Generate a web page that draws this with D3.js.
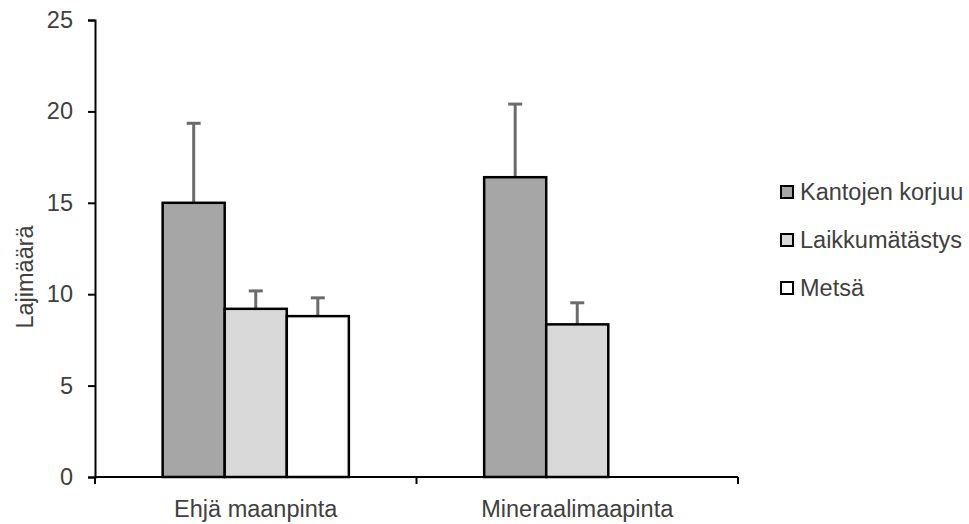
<!DOCTYPE html>
<html>
<head>
<meta charset="utf-8">
<script src="https://cdn.jsdelivr.net/npm/d3@7"></script>
<style>
  html, body { margin: 0; padding: 0; background: #fff; }
  svg { display: block; }
  text { font-family: "Liberation Sans", Arial, sans-serif; fill: #404040; }
</style>
</head>
<body>
<svg id="chart" width="969" height="524"></svg>
<script>
const categories = ["Ehjä maanpinta", "Mineraalimaapinta"];
const seriesNames = ["Kantojen korjuu", "Laikkumätästys", "Metsä"];
const kantojenKorjuu = [15.0, 16.4];
const laikkumatastys = [9.2, 8.35];
const metsa = [8.8, null];
const errKantojen = [4.35, 4.0];
const errLaikku = [0.98, 1.18];
const errMetsa = [1.0, null];
const yTicks = [0, 5, 10, 15, 20, 25];
const yTitle = "Lajimäärä";

const seriesValues = [kantojenKorjuu, laikkumatastys, metsa];
const seriesErrors = [errKantojen, errLaikku, errMetsa];
const fills = ["#a6a6a6", "#d9d9d9", "#ffffff"];

const svg = d3.select("#chart");
const mLeft = 95, mRight = 738, mTop = 20, mBottom = 477;
const fs = 23.5;

const x = d3.scaleBand().domain(categories).range([mLeft, mRight]).paddingInner(0).paddingOuter(0);
const xs = d3.scaleBand().domain(seriesNames).range([0, x.bandwidth()]).paddingInner(0).paddingOuter(1.09);
const y = d3.scaleLinear().domain([0, 25]).range([mBottom, mTop]);

const data = [];
categories.forEach((c, i) => {
  seriesNames.forEach((s, j) => {
    const v = seriesValues[j][i];
    if (v != null) data.push({ c, s, v, e: seriesErrors[j][i], fill: fills[j] });
  });
});

const eb = svg.append("g");
data.forEach(d => {
  const cx = x(d.c) + xs(d.s) + xs.bandwidth() / 2;
  eb.append("line").attr("x1", cx).attr("x2", cx).attr("y1", y(d.v)).attr("y2", y(d.v + d.e))
    .attr("stroke", "#6b6b6b").attr("stroke-width", 3);
  eb.append("line").attr("x1", cx - 7).attr("x2", cx + 7).attr("y1", y(d.v + d.e)).attr("y2", y(d.v + d.e))
    .attr("stroke", "#6b6b6b").attr("stroke-width", 3);
});

svg.append("g").selectAll("rect").data(data).join("rect")
  .attr("x", d => x(d.c) + xs(d.s))
  .attr("width", xs.bandwidth())
  .attr("y", d => y(d.v))
  .attr("height", d => y(0) - y(d.v))
  .attr("fill", d => d.fill)
  .attr("stroke", "#000").attr("stroke-width", 2.5);

const yAxis = svg.append("g").attr("transform", `translate(${mLeft},0)`)
  .call(d3.axisLeft(y).tickValues(yTicks).tickSize(7).tickPadding(15));
yAxis.select(".domain").attr("stroke", "#000").attr("stroke-width", 2);
yAxis.selectAll(".tick line").attr("stroke", "#000").attr("stroke-width", 2);
yAxis.selectAll("text").attr("font-size", fs).style("fill", "#404040")
  .attr("font-family", "Liberation Sans, Arial, sans-serif");

const xAxisG = svg.append("g").attr("transform", `translate(0,${mBottom})`);
xAxisG.append("line").attr("x1", mLeft).attr("x2", mRight).attr("y1", 0).attr("y2", 0)
  .attr("stroke", "#000").attr("stroke-width", 2);
const xTickPos = [mLeft, ...categories.map(c => x(c) + x.bandwidth())];
xAxisG.selectAll("line.t").data(xTickPos).join("line").attr("class", "t")
  .attr("x1", d => d).attr("x2", d => d).attr("y1", 0).attr("y2", 7)
  .attr("stroke", "#000").attr("stroke-width", 2);
xAxisG.selectAll("text").data(categories).join("text")
  .attr("x", d => x(d) + x.bandwidth() / 2).attr("y", 40)
  .attr("text-anchor", "middle").attr("font-size", fs).text(d => d);

svg.append("text").attr("transform", "translate(33,277) rotate(-90)")
  .attr("text-anchor", "middle").attr("font-size", fs).text(yTitle);

const lg = svg.append("g");
seriesNames.forEach((s, i) => {
  const cy = 192 + i * 48;
  lg.append("rect").attr("x", 781).attr("y", cy - 6).attr("width", 12).attr("height", 12)
    .attr("fill", fills[i]).attr("stroke", "#000").attr("stroke-width", 2);
  lg.append("text").attr("x", 800).attr("y", cy + 8).attr("font-size", fs).text(s);
});
</script>
</body>
</html>
